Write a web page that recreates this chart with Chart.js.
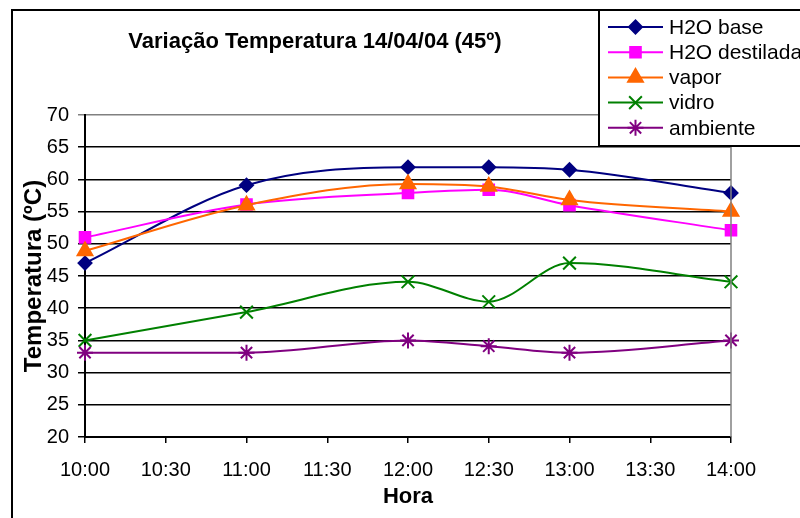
<!DOCTYPE html>
<html><head><meta charset="utf-8">
<style>html,body{margin:0;padding:0;background:#fff}#wrap{width:800px;height:518px;position:relative}</style>
<script src="https://cdn.jsdelivr.net/npm/chart.js@4.4.1/dist/chart.umd.min.js"></script>
</head><body><div id="wrap"><canvas id="c" width="800" height="518"></canvas></div>
<script>
// ---- data ----
const chartTitle = 'Variação Temperatura 14/04/04 (45º)';
const xAxisTitle = 'Hora';
const yAxisTitle = 'Temperatura (ºC)';
const times = ['10:00', '11:00', '12:00', '12:30', '13:00', '14:00'];
const xTickLabels = ['10:00', '10:30', '11:00', '11:30', '12:00', '12:30', '13:00', '13:30', '14:00'];
const seriesNames = ['H2O base', 'H2O destilada', 'vapor', 'vidro', 'ambiente'];
const h2oBase      = [47.0, 59.1, 61.9, 61.9, 61.5, 57.9];
const h2oDestilada = [51.0, 56.1, 57.9, 58.4, 56.0, 52.1];
const vapor        = [48.9, 56.0, 59.3, 58.9, 56.8, 55.0];
const vidro        = [35.0, 39.4, 44.1, 41.0, 47.0, 44.1];
const ambiente     = [33.1, 33.1, 35.0, 34.1, 33.1, 35.0];
const yTickValues  = [20, 25, 30, 35, 40, 45, 50, 55, 60, 65, 70];

// ---- styles ----
const FONT = "'Liberation Sans', Arial, sans-serif";
const styles = [
  {color: '#000080', pointStyle: 'rectRot', radius: 6.5},
  {color: '#FF00FF', pointStyle: 'rect', radius: 7.5},
  {color: '#FF6600', pointStyle: 'triangle', radius: 8.5},
  {color: '#008000', pointStyle: 'crossRot', radius: 9},
  {color: '#800080', pointStyle: 'star', radius: 8}
];
const seriesValues = [h2oBase, h2oDestilada, vapor, vidro, ambiente];

function toHours(t) { const p = t.split(':'); return +p[0] + (+p[1]) / 60; }
function fmtHours(v) {
  const h = Math.floor(v + 1e-9), m = Math.round((v - h) * 60);
  return h + ':' + (m < 10 ? '0' : '') + m;
}

const datasets = seriesNames.map((name, i) => ({
  label: name,
  data: seriesValues[i].map((v, j) => ({x: toHours(times[j]), y: v})),
  order: seriesNames.length - i,
  borderColor: styles[i].color,
  backgroundColor: styles[i].color,
  borderWidth: 2,
  pointStyle: styles[i].pointStyle,
  pointRadius: styles[i].radius,
  pointBorderWidth: 2,
  pointBorderColor: styles[i].color,
  pointBackgroundColor: styles[i].color,
  cubicInterpolationMode: 'monotone',
  fill: false,
  clip: false
}));

const decor = {
  id: 'decor',
  beforeDraw(chart) {
    const ctx = chart.ctx;
    ctx.save();
    ctx.fillStyle = '#fff';
    ctx.fillRect(0, 0, chart.width, chart.height);
    ctx.restore();
  },
  afterDraw(chart) {
    const ctx = chart.ctx, a = chart.chartArea;
    ctx.save();
    // plot area right border
    ctx.strokeStyle = '#808080';
    ctx.lineWidth = 1.5;
    ctx.beginPath(); ctx.moveTo(a.right, a.top); ctx.lineTo(a.right, a.bottom); ctx.stroke();
    // outer chart border
    ctx.strokeStyle = '#000';
    ctx.lineWidth = 2;
    ctx.beginPath(); ctx.moveTo(12, 520); ctx.lineTo(12, 10); ctx.lineTo(802, 10); ctx.stroke();
    // title
    ctx.fillStyle = '#000';
    ctx.font = 'bold 22px ' + FONT;
    ctx.textAlign = 'center';
    ctx.textBaseline = 'middle';
    ctx.fillText(chartTitle, 315, 42);
    // legend
    const lx = 599, ly = 10, lw = 210, lh = 136;
    ctx.fillStyle = '#fff';
    ctx.fillRect(lx, ly, lw, lh);
    ctx.strokeStyle = '#000';
    ctx.lineWidth = 2;
    ctx.strokeRect(lx, ly, lw, lh);
    ctx.font = '21px ' + FONT;
    ctx.textAlign = 'left';
    chart.data.datasets.forEach((ds, i) => {
      const y = 27 + i * 25.2;
      ctx.strokeStyle = ds.borderColor;
      ctx.lineWidth = 2;
      ctx.beginPath(); ctx.moveTo(608, y); ctx.lineTo(663, y); ctx.stroke();
      ctx.fillStyle = ds.pointBackgroundColor;
      ctx.strokeStyle = ds.pointBorderColor;
      ctx.lineWidth = 2;
      Chart.helpers.drawPoint(ctx, {pointStyle: ds.pointStyle, rotation: 0, borderWidth: 2, radius: ds.pointRadius}, 635.5, y);
      ctx.fillStyle = '#000';
      ctx.fillText(ds.label, 669, y + 1);
    });
    ctx.restore();
  }
};

new Chart(document.getElementById('c'), {
  type: 'line',
  data: {datasets},
  options: {
    responsive: false,
    animation: false,
    devicePixelRatio: 1,
    layout: {padding: {left: 0, top: 115, right: 69, bottom: 0}},
    plugins: {legend: {display: false}, title: {display: false}, tooltip: {enabled: false}},
    scales: {
      x: {
        type: 'linear',
        min: toHours(xTickLabels[0]),
        max: toHours(xTickLabels[xTickLabels.length - 1]),
        afterBuildTicks(scale) { scale.ticks = xTickLabels.map(t => ({value: toHours(t)})); },
        afterFit(scale) { scale.height = 81; },
        ticks: {
          autoSkip: false, maxRotation: 0, padding: 15, color: '#000',
          font: {family: FONT, size: 20},
          callback: v => fmtHours(v)
        },
        grid: {drawOnChartArea: false, tickLength: 6, color: '#000', lineWidth: 1.5},
        border: {color: '#000', width: 2},
        title: {display: true, text: xAxisTitle, color: '#000', font: {family: FONT, size: 22, weight: 'bold'}, padding: {top: 0, bottom: 8}}
      },
      y: {
        min: yTickValues[0],
        max: yTickValues[yTickValues.length - 1],
        afterBuildTicks(scale) { scale.ticks = yTickValues.map(v => ({value: v})); },
        afterFit(scale) { scale.width = 85; },
        ticks: {padding: 9, color: '#000', font: {family: FONT, size: 20}},
        grid: {tickLength: 7, lineWidth: 1.5, color: c => (c.tick && c.tick.value === 70) ? '#808080' : '#000'},
        border: {color: '#000', width: 2},
        title: {display: true, text: yAxisTitle, color: '#000', font: {family: FONT, size: 24, weight: 'bold'}, padding: {top: 20, bottom: 0}}
      }
    }
  },
  plugins: [decor]
});
</script>
</body></html>
